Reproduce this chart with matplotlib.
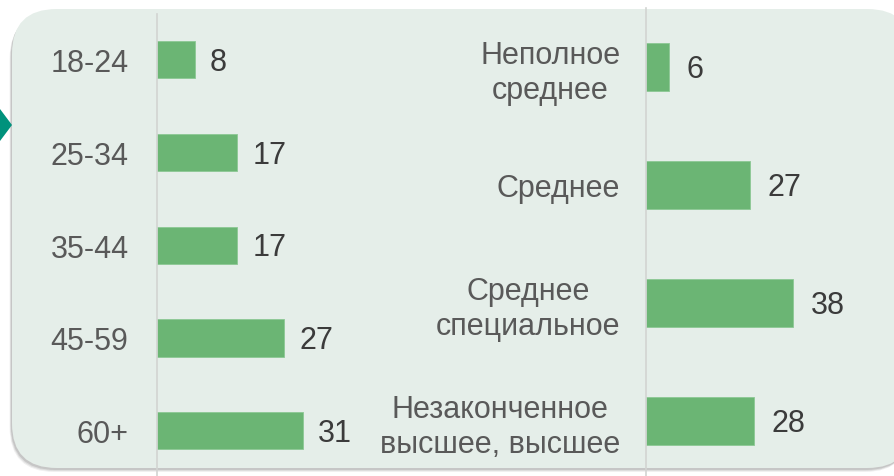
import numpy as np
import matplotlib
matplotlib.use('Agg')
import matplotlib.pyplot as plt
from matplotlib.patches import FancyBboxPatch, Polygon

## data
age_groups = ['18-24', '25-34', '35-44', '45-59', '60+']
age_values = [8, 17, 17, 27, 31]
edu_groups = ['Неполное\nсреднее', 'Среднее', 'Среднее\nспециальное',
              'Незаконченное\nвысшее, высшее']
edu_values = [6, 27, 38, 28]

## style
bar_color = '#6bb574'
panel_color = '#e5eee9'
label_color = '#595959'
value_color = '#3b3b3b'
axis_color = '#d2d4d2'
plt.rcParams['font.family'] = ['Liberation Sans', 'DejaVu Sans']
font_size = 22

W, H = 894, 477
fig = plt.figure(figsize=(W / 100., H / 100.), dpi=100)
fig.patch.set_facecolor('white')


def px(x0, y0, w, h):
    # pixel box (top-left origin) -> figure fraction
    return [x0 / W, 1 - (y0 + h) / H, w / W, h / H]


## panel with soft shadow
for i, a in enumerate([0.10, 0.08, 0.06]):
    d = i + 2
    sh = FancyBboxPatch(((12 - d * 0.6) / W, 1 - (469 + d) / H), 900. / W, 458. / H,
                        boxstyle="round,pad=0,rounding_size=0.05",
                        transform=fig.transFigure, facecolor='black', alpha=a,
                        edgecolor='none', zorder=0, mutation_aspect=W / float(H))
    fig.patches.append(sh)
panel = FancyBboxPatch((12. / W, 1 - 469. / H), 900. / W, 459. / H,
                       boxstyle="round,pad=0,rounding_size=0.05",
                       transform=fig.transFigure, facecolor=panel_color,
                       edgecolor='none', zorder=1, mutation_aspect=W / float(H))
fig.patches.append(panel)

## teal arrow marker on the left
arrow = Polygon([(0, 1 - 110. / H), (12. / W, 1 - 126. / H), (0, 1 - 142. / H)],
                closed=True, transform=fig.transFigure, facecolor='#00927c',
                edgecolor='none', zorder=2)
fig.patches.append(arrow)


def draw_bars(ax, cats, vals, xmax, offset, pad):
    y = np.arange(len(cats))
    ax.barh(y, vals, height=0.4, color=bar_color, edgecolor='#8cc894', linewidth=0.6)
    for yi, v in zip(y, vals):
        ax.annotate('%d' % v, xy=(v, yi), xytext=(offset, -1.5), textcoords='offset points',
                    ha='left', va='center', fontsize=font_size, color=value_color)
    ax.set_yticks(y)
    ax.set_yticklabels(cats, fontsize=font_size, color=label_color, multialignment='center')
    ax.tick_params(axis='y', length=0, pad=pad)
    ax.set_xticks([])
    ax.set_xlim(0, xmax)
    ax.set_ylim(len(cats) - 0.5, -0.5)
    ax.patch.set_alpha(0)
    for s in ['top', 'right', 'bottom']:
        ax.spines[s].set_visible(False)
    ax.spines['left'].set_color(axis_color)
    ax.spines['left'].set_linewidth(1.2)


## age chart
ax1 = fig.add_axes(px(157, 14.6, 243, 463.4), zorder=3)
draw_bars(ax1, age_groups, age_values, 243 / 4.7, 11, 20.5)

## education chart
ax2 = fig.add_axes(px(646, 9, 248, 472), zorder=3)
draw_bars(ax2, edu_groups, edu_values, 248 / 3.87, 12.5, 18.5)

plt.savefig('out.png', dpi=100, facecolor=fig.get_facecolor())
